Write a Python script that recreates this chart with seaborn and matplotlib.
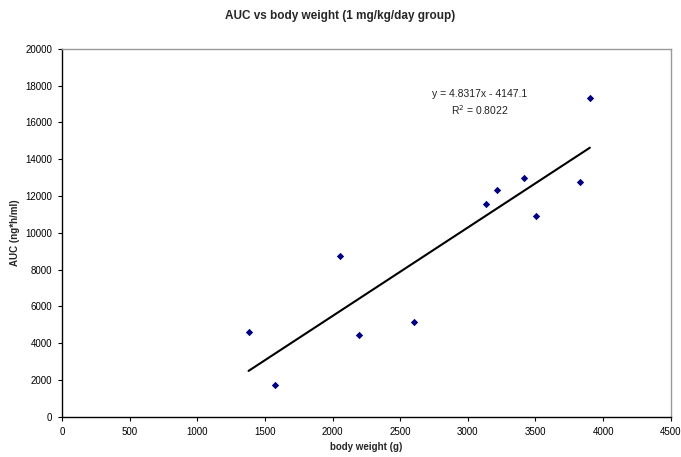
import matplotlib
matplotlib.use('Agg')
import numpy as np
import pandas as pd
import seaborn as sns
import matplotlib.pyplot as plt

# body weight (g) and AUC (ng*h/ml)
body_weight = [1379, 1571, 2056, 2197, 2601, 3131, 3212, 3412, 3505, 3826, 3902]
auc = [4590, 1710, 8730, 4450, 5170, 11570, 12330, 12990, 10900, 12790, 17340]

df = pd.DataFrame({"body weight (g)": body_weight, "AUC (ng*h/ml)": auc})

sns.set_style("white")
plt.rcParams['font.family'] = ['Liberation Sans', 'DejaVu Sans']

fig = plt.figure(figsize=(6.81, 4.57), dpi=100)
ax = fig.add_axes([0.091, 0.088, 0.894, 0.805])

sns.regplot(data=df, x="body weight (g)", y="AUC (ng*h/ml)", ax=ax, ci=None,
            marker="D", truncate=True,
            scatter_kws=dict(color="#000080", s=14, linewidths=0, alpha=1),
            line_kws=dict(color="black", lw=1.5))

ax.text(3090, 17050, "y = 4.8317x - 4147.1\nR$^2$ = 0.8022", ha="center", va="center",
        fontsize=7.5, color="#222222", linespacing=1.3)

ax.set_xlim(0, 4500)
ax.set_ylim(0, 20000)
ax.set_xticks(range(0, 4501, 500))
ax.set_yticks(range(0, 20001, 2000))
ax.tick_params(axis="both", labelsize=7, length=3, width=0.8, direction="out",
               colors="black", bottom=True, left=True, pad=4)
for s in ["left", "bottom"]:
    ax.spines[s].set_color("black")
    ax.spines[s].set_linewidth(1.0)
for s in ["top", "right"]:
    ax.spines[s].set_color("#999999")
    ax.spines[s].set_linewidth(1.0)

ax.set_xlabel("body weight (g)", fontsize=7, fontweight="bold", labelpad=4)
ax.set_ylabel("AUC (ng*h/ml)", fontsize=7, fontweight="bold", labelpad=4)
fig.text(0.5, 0.965, "AUC vs body weight (1 mg/kg/day group)", ha="center", va="center",
         fontsize=8.5, fontweight="bold")

fig.savefig("out.png", dpi=100)
